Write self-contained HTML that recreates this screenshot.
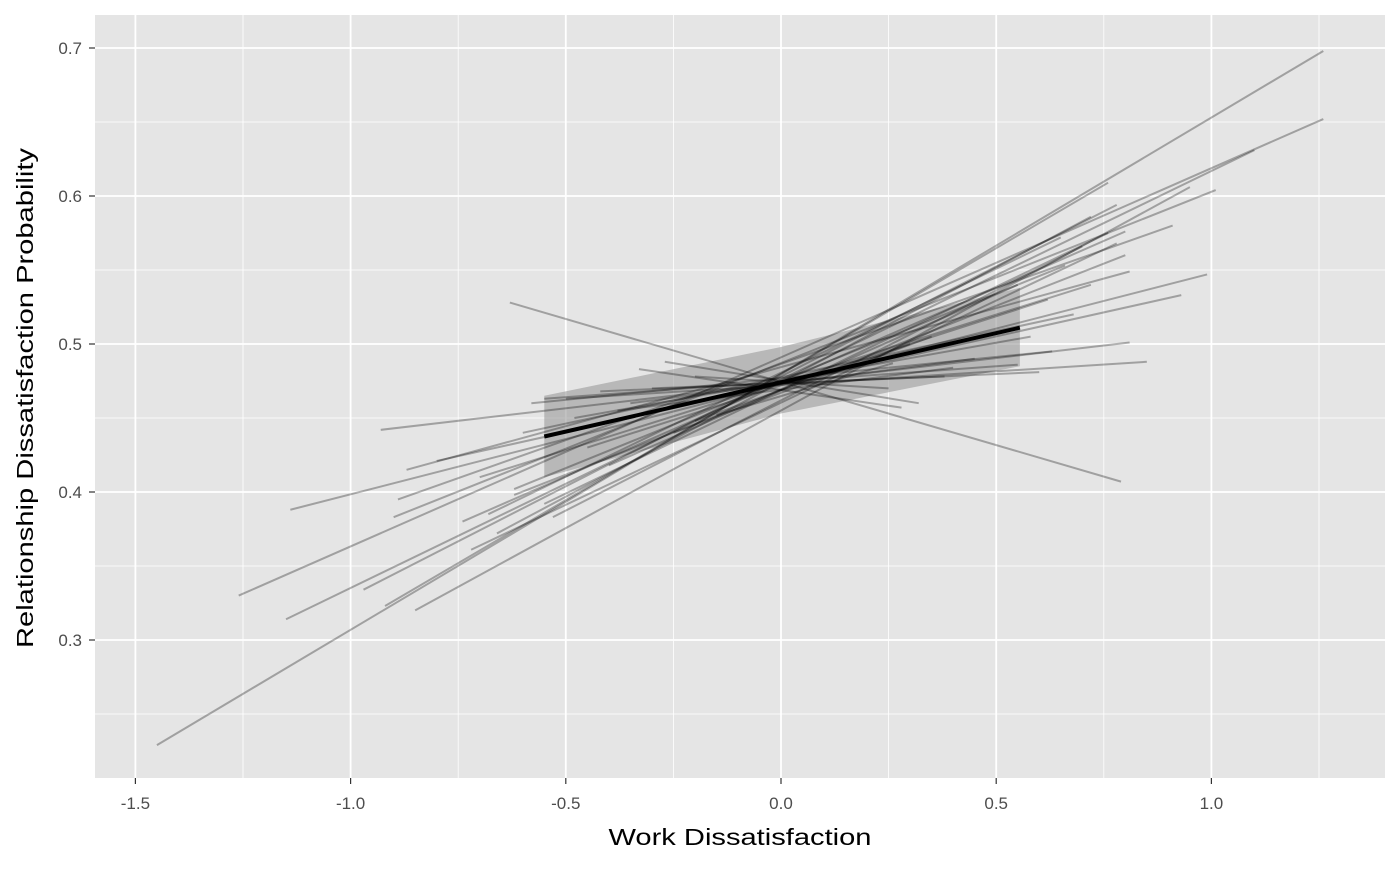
<!DOCTYPE html>
<html><head><meta charset="utf-8"><style>
body{margin:0;background:#fff;}
svg text{font-family:"Liberation Sans",Arial,sans-serif;}
</style></head><body>
<svg id="chart" width="1400" height="865" xmlns="http://www.w3.org/2000/svg">
<rect x="95" y="15" width="1290" height="763" fill="#e5e5e5"/>
<g id="grid"></g>
<g id="ribbon"></g>
<g id="lines"></g>
<g id="axes"></g>
<text x="740" y="845" font-size="23" text-anchor="middle" textLength="263" lengthAdjust="spacingAndGlyphs" fill="#000">Work Dissatisfaction</text>
<text transform="translate(33,398) rotate(-90)" font-size="23" text-anchor="middle" textLength="500" lengthAdjust="spacingAndGlyphs" fill="#000">Relationship Dissatisfaction Probability</text>
</svg>
<script>
const xTicks=[-1.5,-1.0,-0.5,0.0,0.5,1.0];
const xTickLabels=["-1.5","-1.0","-0.5","0.0","0.5","1.0"];
const xMinor=[-1.25,-0.75,-0.25,0.25,0.75,1.25];
const yTicks=[0.3,0.4,0.5,0.6,0.7];
const yTickLabels=["0.3","0.4","0.5","0.6","0.7"];
const yMinor=[0.25,0.35,0.45,0.55,0.65];
const lineX0=[-1.45,-1.26,-1.15,-1.14,-0.93,-0.63,-0.92,-0.85,-0.97,-0.90,-0.89,-0.87,-0.80,-0.74,-0.72,-0.68,-0.66,-0.62,-0.55,-0.53,-0.50,-0.42,-0.35,-0.30,-0.27,-0.33,-0.20,-0.60,-0.45,-0.40,-0.58,-0.48,-0.38,-0.25,-0.20,-0.15,-0.55,-0.70,-0.62];
const lineX1=[1.26,1.26,1.10,0.99,0.81,0.79,0.76,0.95,0.78,1.01,0.91,0.81,0.93,0.80,0.78,0.65,0.72,0.66,0.76,0.70,0.85,0.60,0.45,0.38,0.32,0.28,0.25,0.68,0.62,0.55,0.63,0.58,0.40,0.35,0.30,0.26,0.55,0.72,0.80];
const lineY0=[0.229,0.330,0.314,0.388,0.442,0.528,0.323,0.320,0.334,0.383,0.395,0.415,0.421,0.380,0.361,0.385,0.372,0.402,0.392,0.383,0.463,0.468,0.460,0.470,0.488,0.483,0.478,0.440,0.430,0.418,0.460,0.450,0.455,0.440,0.448,0.452,0.463,0.410,0.398];
const lineY1=[0.698,0.652,0.631,0.547,0.501,0.407,0.609,0.606,0.594,0.604,0.580,0.549,0.533,0.576,0.568,0.572,0.586,0.553,0.575,0.566,0.488,0.481,0.490,0.478,0.460,0.457,0.470,0.520,0.530,0.540,0.495,0.505,0.484,0.505,0.500,0.487,0.486,0.540,0.560];
const ribbonX=[-0.55,0.0,0.555];
const ribbonUpper=[0.465,0.498,0.538];
const ribbonLower=[0.410,0.453,0.485];
const meanX=[-0.55,0.555];
const meanY=[0.4375,0.511];

const NS="http://www.w3.org/2000/svg";
const sx=v=>781+v*430.4;
const sy=v=>344-(v-0.5)*1480;
function mk(tag,attrs,parent){const e=document.createElementNS(NS,tag);for(const k in attrs)e.setAttribute(k,attrs[k]);parent.appendChild(e);return e;}
const grid=document.getElementById('grid');
xMinor.forEach(v=>{const l=mk('line',{x1:sx(v),x2:sx(v),y1:15,y2:778,stroke:'#fff','stroke-width':0.8},grid);

});
yMinor.forEach(v=>{const l=mk('line',{x1:95,x2:1385,y1:sy(v),y2:sy(v),stroke:'#fff','stroke-width':0.8},grid);

});
xTicks.forEach(v=>{const l=mk('line',{x1:sx(v),x2:sx(v),y1:15,y2:778,stroke:'#fff','stroke-width':1.8},grid);

});
yTicks.forEach(v=>{const l=mk('line',{x1:95,x2:1385,y1:sy(v),y2:sy(v),stroke:'#fff','stroke-width':1.8},grid);

});
const rib=document.getElementById('ribbon');
let pts=ribbonX.map((x,i)=>sx(x)+','+sy(ribbonUpper[i]));
for(let i=ribbonX.length-1;i>=0;i--)pts.push(sx(ribbonX[i])+','+sy(ribbonLower[i]));
const rp=mk('polygon',{points:pts.join(' '),fill:'#999','fill-opacity':0.6},rib);


const lg=document.getElementById('lines');
lineX0.forEach((x,i)=>{const l=mk('line',{x1:sx(x),y1:sy(lineY0[i]),x2:sx(lineX1[i]),y2:sy(lineY1[i]),stroke:'#000','stroke-opacity':0.3,'stroke-width':2},lg);

});
const ml=mk('line',{x1:sx(meanX[0]),y1:sy(meanY[0]),x2:sx(meanX[1]),y2:sy(meanY[1]),stroke:'#000','stroke-width':4},lg);


const ax=document.getElementById('axes');
xTicks.forEach((v,i)=>{const t=mk('line',{x1:sx(v),x2:sx(v),y1:778,y2:784,stroke:'#333','stroke-width':1.2},ax);


const tx=mk('text',{x:sx(v),y:809,'font-size':17,'text-anchor':'middle',fill:'#4d4d4d'},ax);tx.textContent=xTickLabels[i];

});
yTicks.forEach((v,i)=>{const t=mk('line',{x1:89,x2:95,y1:sy(v),y2:sy(v),stroke:'#333','stroke-width':1.2},ax);


const tx=mk('text',{x:82,y:sy(v)+6,'font-size':17,'text-anchor':'end',fill:'#4d4d4d'},ax);tx.textContent=yTickLabels[i];

});
</script>
</body></html>
